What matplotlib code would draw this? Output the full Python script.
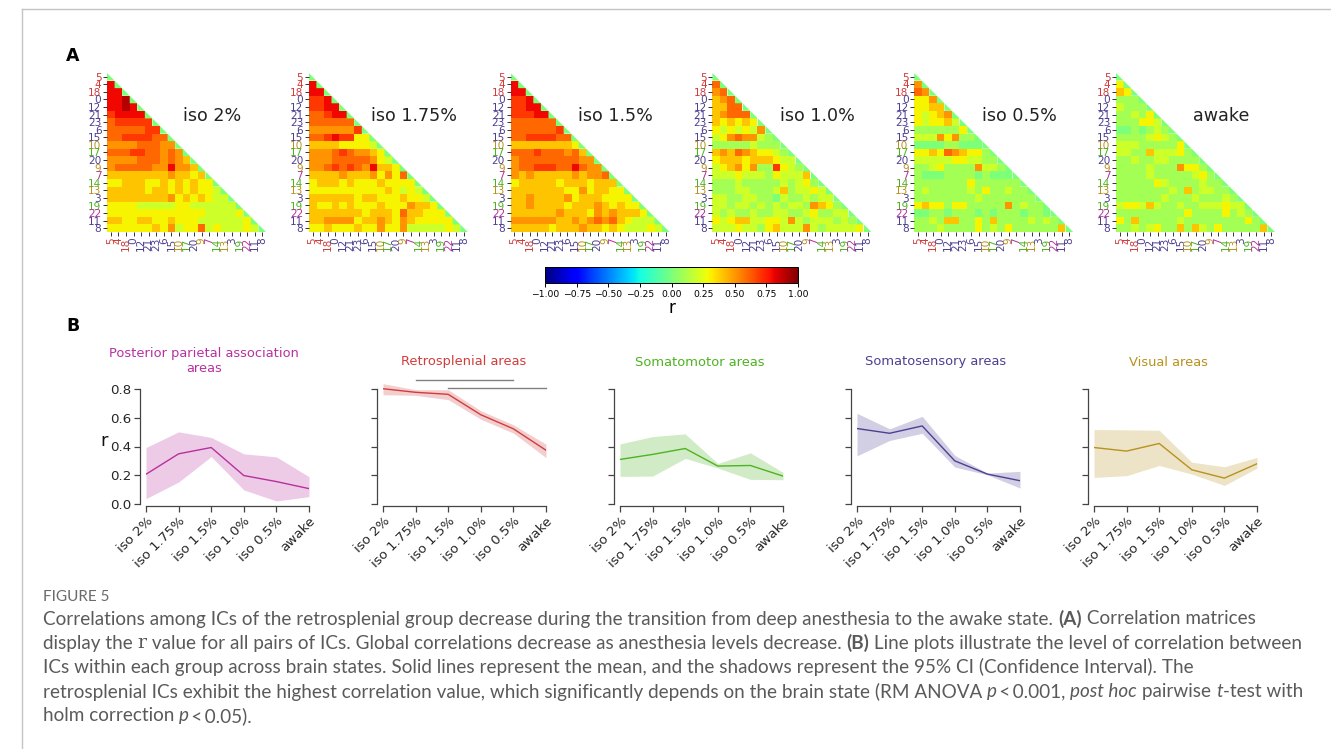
import numpy as np
import matplotlib
matplotlib.use("Agg")
import matplotlib.pyplot as plt
from matplotlib.colors import Normalize
from matplotlib.patches import Polygon
from matplotlib.lines import Line2D
from matplotlib.cm import ScalarMappable

W, H = 1331, 749

# ---- panel A data: lower-triangle r values, one digit per cell (r = digit / 10)
ic_labels = ['5', '4', '18', '0', '12', '21', '23', '6', '15', '10', '17',
             '20', '9', '7', '14', '13', '3', '19', '22', '11', '8']
ic_groups = ['RS', 'RS', 'RS', 'SS', 'SS', 'SS', 'SS', 'SS', 'SS', 'VIS', 'MO',
             'SS', 'VIS', 'PPA', 'MO', 'VIS', 'SS', 'MO', 'PPA', 'SS', 'SS']

iso2_rows = ["8", "88", "889", "8898", "78888", "677777", "6666677", "66777766",
             "555566655", "6667766565", "55556665654", "566666558554",
             "4444444454434", "33444334343433", "444443443434332",
             "4444444453434322", "33332222233222222", "333333333333322223",
             "4433443343332222223", "33333343523362322232"]
iso175_rows = ["8", "88", "778", "7788", "66788", "666666", "5555557", "66787733",
               "444433332", "5556765543", "55566666532", "556767658443",
               "4444544453536", "34443433343333", "333333333343232",
               "4444443443334332", "43343433343335443", "444444434443644333",
               "4455553445435433333", "33433343353352222232"]
iso15_rows = ["8", "88", "778", "7788", "77788", "666666", "6666667", "66777766",
              "444444443", "6667666564", "56666666655", "566777668655",
              "5454444454556", "34444434443444", "444444433534433",
              "4454444534443333", "44544443444543433", "444444544435454443",
              "5555554454565643222", "44444344454434322232"]
iso10_rows = ["6", "56", "456", "4466", "45666", "434343", "3232325", "23565521",
              "111112111", "4546543321", "34443444322", "234535117321",
              "2223222132224", "11121111121231", "111221112412232",
              "2211221102112122", "22122121212215431", "212112112211231122",
              "3234422332521222121", "22232213422252122223"]
iso05_rows = ["5", "65", "335", "3344", "32345", "323342", "1111113", "22253511",
              "000011000", "3343654331", "22222332211", "112311115221",
              "1000111101000", "11111113111111", "121111121311211",
              "1111111121111111", "34331331111151211", "001101110101110110",
              "1121441131411112121", "11121111312131111114"]
awake_rows = ["3", "43", "111", "2111", "11213", "111332", "0010121", "11112321",
              "222111113", "2211422231", "11211221111", "111121115331",
              "1111211111231", "11111321111211", "111111121412211",
              "1111112111211121", "23324211211222322", "111111111311113121",
              "3141111121111111131", "11212311414213111114"]
matrix_titles = ['iso 2%', 'iso 1.75%', 'iso 1.5%', 'iso 1.0%', 'iso 0.5%', 'awake']
matrix_rows = [iso2_rows, iso175_rows, iso15_rows, iso10_rows, iso05_rows, awake_rows]

# ---- panel B data
states = ['iso 2%', 'iso 1.75%', 'iso 1.5%', 'iso 1.0%', 'iso 0.5%', 'awake']
ppa_mean = [0.207, 0.349, 0.393, 0.198, 0.156, 0.107]
ppa_lo = [0.037, 0.153, 0.330, 0.098, 0.021, 0.051]
ppa_hi = [0.393, 0.502, 0.463, 0.349, 0.328, 0.190]
rs_mean = [0.802, 0.777, 0.763, 0.621, 0.523, 0.374]
rs_lo = [0.760, 0.756, 0.726, 0.590, 0.493, 0.323]
rs_hi = [0.837, 0.795, 0.795, 0.649, 0.551, 0.416]
mo_mean = [0.310, 0.345, 0.386, 0.264, 0.268, 0.194]
mo_lo = [0.192, 0.194, 0.317, 0.250, 0.171, 0.169]
mo_hi = [0.418, 0.469, 0.488, 0.282, 0.356, 0.220]
ss_mean = [0.525, 0.492, 0.543, 0.300, 0.208, 0.162]
ss_lo = [0.335, 0.442, 0.492, 0.257, 0.203, 0.111]
ss_hi = [0.631, 0.523, 0.610, 0.338, 0.215, 0.227]
vis_mean = [0.393, 0.368, 0.421, 0.238, 0.180, 0.280]
vis_lo = [0.185, 0.197, 0.268, 0.208, 0.129, 0.250]
vis_hi = [0.518, 0.516, 0.513, 0.291, 0.259, 0.324]
# significant pairwise comparisons for retrosplenial (state index a, state index b, bar height)
rs_sig = [(1, 4, 0.86), (2, 5, 0.808)]

group_colors = {'PPA': '#b8309f', 'RS': '#d23c3c', 'MO': '#4db321',
                'SS': '#4f3f92', 'VIS': '#b8921e'}
group_titles = {'PPA': 'Posterior parietal association\nareas', 'RS': 'Retrosplenial areas',
                'MO': 'Somatomotor areas', 'SS': 'Somatosensory areas', 'VIS': 'Visual areas'}
line_groups = ['PPA', 'RS', 'MO', 'SS', 'VIS']
line_data = {'PPA': (ppa_mean, ppa_lo, ppa_hi), 'RS': (rs_mean, rs_lo, rs_hi),
             'MO': (mo_mean, mo_lo, mo_hi), 'SS': (ss_mean, ss_lo, ss_hi),
             'VIS': (vis_mean, vis_lo, vis_hi)}
title_x = [204, 464, 700, 936, 1168]


def box(x, y, w, h):
    # pixel box (top-left origin) -> figure fraction
    return [x / W, 1 - (y + h) / H, w / W, h / H]


fig = plt.figure(figsize=(W / 100, H / 100), dpi=100)
cmap = plt.get_cmap('jet')
norm = Normalize(-1, 1)
n = len(ic_labels)

# ---------------- panel A
for k, rows in enumerate(matrix_rows):
    M = np.full((n, n), np.nan)
    for i, row in enumerate(rows):
        if len(row) != i + 1:
            raise ValueError(f"matrix {k} row {i} has {len(row)} cells")
        M[i + 1, :i + 1] = [int(c) / 10 for c in row]
    ax = fig.add_axes(box(107 + 201.8 * k, 73, 159, 159))
    ax.imshow(M, cmap=cmap, norm=norm, interpolation='nearest', aspect='auto')
    # diagonal band (r of an IC with itself left at 0), cut along the matrix diagonal
    band = [(-0.5, -0.5), (n - 0.5, n - 0.5)]
    for d in range(n - 1, -1, -1):
        band += [(d - 0.5, d + 0.5), (d - 0.5, d - 0.5)]
    ax.add_patch(Polygon(band, closed=True, facecolor=cmap(norm(0)), edgecolor='none'))
    ax.set_xlim(-0.5, n - 0.5)
    ax.set_ylim(n - 0.5, -0.5)
    for s in ax.spines.values():
        s.set_visible(False)
    ax.set_xticks(range(n))
    ax.set_yticks(range(n))
    ax.set_xticklabels(ic_labels, rotation=90, fontsize=7.6)
    ax.set_yticklabels(ic_labels, fontsize=7.6)
    ax.tick_params(length=3, width=0.7, pad=1, color='#333333')
    for lab, g in zip(ax.get_xticklabels(), ic_groups):
        lab.set_color(group_colors[g])
    for lab, g in zip(ax.get_yticklabels(), ic_groups):
        lab.set_color(group_colors[g])
    ax.text(0.66, 0.73, matrix_titles[k], transform=ax.transAxes, ha='center',
            va='center', fontsize=12.6, color='#222222')

cax = fig.add_axes(box(545, 267, 253, 16))
cb_ticks = np.linspace(-1, 1, 9)
cb = fig.colorbar(ScalarMappable(norm=norm, cmap=cmap), cax=cax, orientation='horizontal',
                  ticks=cb_ticks)
cb.ax.set_xticklabels([f'{v:.2f}'.replace('-', '\u2212') for v in cb_ticks])
cb.ax.tick_params(labelsize=6.7, length=3, width=0.7, pad=2)
cb.outline.set_linewidth(0.7)
cb.set_label('r', fontsize=12, labelpad=0)

# ---------------- panel B
ppx = 143.75  # pixels per unit r
for k, g in enumerate(line_groups):
    mean, lo, hi = line_data[g]
    c = group_colors[g]
    ax = fig.add_axes(box(146 + 237 * k, 504 - 0.9 * ppx, 163, 0.9 * ppx))
    # spine placement first: set_position resets the tick objects
    ax.spines['top'].set_visible(False)
    ax.spines['right'].set_visible(False)
    ax.spines['left'].set_position(('outward', 4.5))
    ax.spines['bottom'].set_position(('outward', 1.5))
    ax.spines['left'].set_bounds(0, 0.8)
    ax.spines['bottom'].set_bounds(0, 5)
    for s in ('left', 'bottom'):
        ax.spines[s].set_color('#444444')
        ax.spines[s].set_linewidth(0.9)
    x = np.arange(len(states))
    ax.fill_between(x, lo, hi, color=c, alpha=0.25, linewidth=0)
    ax.plot(x, mean, color=c, lw=1.0)
    ax.set_xlim(0, 5)
    ax.set_ylim(0, 0.9)
    ax.set_xticks(x)
    ax.set_xticklabels(states, rotation=45, ha='right', rotation_mode='anchor',
                       fontsize=9.6, color='#262626')
    ax.set_yticks([0, 0.2, 0.4, 0.6, 0.8])
    if k == 0:
        ax.set_yticklabels(['0.0', '0.2', '0.4', '0.6', '0.8'], fontsize=9.6, color='#262626')
    else:
        ax.set_yticklabels([])
    ax.tick_params(length=4, width=0.9, color='#444444', pad=2)
    ax.patch.set_visible(False)
    if g == 'RS':
        for a, b, yv in rs_sig:
            ax.plot([a, b], [yv, yv], color='#808080', lw=1.0, clip_on=False)
    ty = 362 if '\n' not in group_titles[g] else 361
    fig.text(title_x[k] / W, 1 - ty / H, group_titles[g], ha='center', va='center',
             fontsize=9.4, color=c, linespacing=1.25)

fig.text(104 / W, 1 - 441 / H, 'r', fontsize=13, ha='center', va='center', color='#111111')
fig.text(73 / W, 1 - 56 / H, 'A', fontsize=12.5, weight='bold', ha='center', va='center')
fig.text(73 / W, 1 - 326 / H, 'B', fontsize=12.5, weight='bold', ha='center', va='center')

# ---------------- frame lines
fig.add_artist(Line2D([22 / W, 1], [1 - 9 / H, 1 - 9 / H], color='#c4c4c4', lw=1))
fig.add_artist(Line2D([22 / W, 22 / W], [0, 1 - 9 / H], color='#c4c4c4', lw=1))

# ---------------- caption
cap_color = '#5a5a5a'
cap_size = 13.6
renderer = fig.canvas.get_renderer()


def style_kw(style):
    kw = dict(fontsize=cap_size, color=cap_color, family='Lato')
    if style == 'b':
        kw['weight'] = 'bold'
    elif style == 'i':
        kw['style'] = 'italic'
    elif style == 'r':
        kw['family'] = 'DejaVu Serif'
    return kw


def seg_width(s, kw):
    t1 = fig.text(0, 0, '|' + s + '|', **kw)
    t2 = fig.text(0, 0, '||', **kw)
    w = t1.get_window_extent(renderer).width - t2.get_window_extent(renderer).width
    t1.remove()
    t2.remove()
    return w


def rich_line(x, y, parts):
    for s, st in parts:
        kw = style_kw(st)
        fig.text(x / W, 1 - y / H, s, ha='left', va='center', **kw)
        x += seg_width(s, kw)


fig.text(43 / W, 1 - 597 / H, 'FIGURE 5', fontsize=11, color='#6a6a6a', family='Lato',
         ha='left', va='center')
caption = [
    [("Correlations among ICs of the retrosplenial group decrease during the transition "
      "from deep anesthesia to the awake state. ", 'n'), ("(A)", 'b'), (" Correlation matrices", 'n')],
    [("display the ", 'n'), ("r", 'r'), (" value for all pairs of ICs. Global correlations decrease "
      "as anesthesia levels decrease. ", 'n'), ("(B)", 'b'),
     (" Line plots illustrate the level of correlation between", 'n')],
    [("ICs within each group across brain states. Solid lines represent the mean, and the shadows "
      "represent the 95% CI (Confidence Interval). The", 'n')],
    [("retrosplenial ICs exhibit the highest correlation value, which significantly depends on the "
      "brain state (RM ANOVA ", 'n'), ("p", 'i'), ("\u2009<\u20090.001, ", 'n'), ("post hoc", 'i'),
     (" pairwise ", 'n'), ("t", 'i'), ("-test with", 'n')],
    [("holm correction ", 'n'), ("p", 'i'), ("\u2009<\u20090.05).", 'n')],
]
for i, parts in enumerate(caption):
    rich_line(43, 619 + 24.2 * i, parts)

fig.savefig('out.png', dpi=100)
